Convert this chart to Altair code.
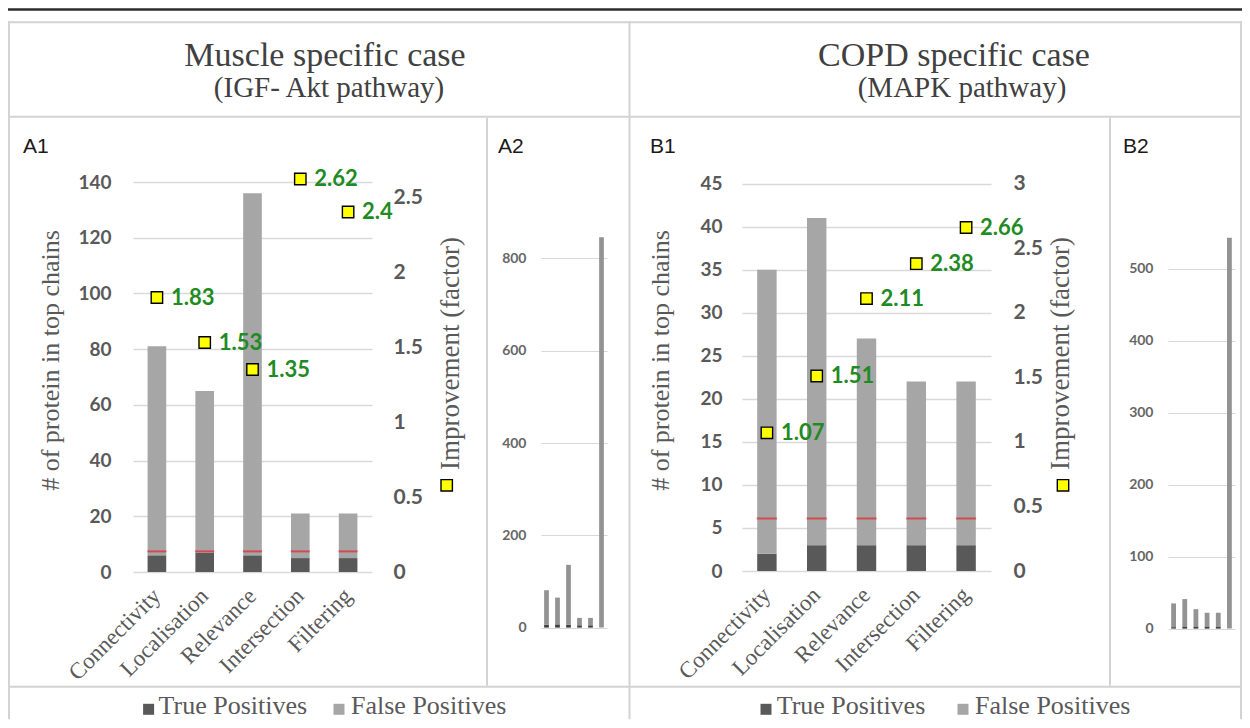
import altair as alt
import pandas as pd

# ---------------- data ----------------
steps = ["Connectivity", "Localisation", "Relevance", "Intersection", "Filtering"]
all_step = "All proteins"
series = ["True Positives", "False Positives"]

muscle_tp = [6, 7, 6, 5, 5]
muscle_fp = [75, 58, 130, 16, 16]
muscle_red = [7.4, 7.4, 7.4, 7.4, 7.4]
muscle_improvement = [1.83, 1.53, 1.35, 2.62, 2.4]
muscle_all_tp = 0
muscle_all_fp = 846

copd_tp = [2, 3, 3, 3, 3]
copd_fp = [33, 38, 24, 19, 19]
copd_red = [6.1, 6.1, 6.1, 6.1, 6.1]
copd_improvement = [1.07, 1.51, 2.11, 2.38, 2.66]
copd_all_tp = 0
copd_all_fp = 543

muscle_left_ticks = [0, 20, 40, 60, 80, 100, 120, 140]
muscle_right_ticks = [0, 0.5, 1, 1.5, 2, 2.5]
muscle_overview_ticks = [0, 200, 400, 600, 800]
copd_left_ticks = [0, 5, 10, 15, 20, 25, 30, 35, 40, 45]
copd_right_ticks = [0, 0.5, 1, 1.5, 2, 2.5, 3]
copd_overview_ticks = [0, 100, 200, 300, 400, 500]

# ---------------- styles ----------------
SERIF = "Liberation Serif"
CAL = "Lato"
SANS = "Liberation Sans"
DARK = "#595959"
LIGHT = "#a6a6a6"
OV_DARK = "#3f3f3f"
OV_LIGHT = "#939393"
RED = "#e5252b"
GREEN = "#1f8b24"
YELLOW = "#ffff00"
GRID = "#d9d9d9"
FRAME = "#d3d3d3"
TXT = "#595959"
HEAD = "#404040"

# page layout (pixels)
TOP = 181.7
A1_X, A1_W, A1_H = 133, 239, 390
A2_X, A2_W, A2_H = 541, 66, 445.6
B1_X, B1_W, B1_H = 742, 249, 389
B2_X, B2_W, B2_H = 1168, 67, 446.6


def one():
    return alt.Data(values=[{"k": 0}])


def band(x1, y1, x2, y2, ox, color=FRAME):
    return alt.Chart(one()).mark_rect(color=color, opacity=1).encode(
        x=alt.value(x1 - ox), x2=alt.value(x2 - ox),
        y=alt.value(y1 - TOP), y2=alt.value(y2 - TOP))


def label(txt, x, y, ox, **kw):
    return alt.Chart(one()).mark_text(text=txt, **kw).encode(
        x=alt.value(x - ox), y=alt.value(y - TOP))


def marker(x, y, ox, fill, size=121, stroke=None):
    kw = dict(size=size, fill=fill, opacity=1, shape="square", filled=True)
    if stroke:
        kw.update(stroke=stroke, strokeWidth=1.4)
    return alt.Chart(one()).mark_point(**kw).encode(
        x=alt.value(x - ox), y=alt.value(y - TOP))


def spacer(w):
    return alt.Chart(one()).mark_point(opacity=0).encode(
        x=alt.value(0), y=alt.value(0)).properties(width=w, height=20)


def stack_frame(cats, tp, fp):
    rows = []
    for c, t, f in zip(cats, tp, fp):
        rows.append({"step": c, "series": series[0], "count": t, "rank": 0})
        rows.append({"step": c, "series": series[1], "count": f, "rank": 1})
    return pd.DataFrame(rows)


def main_panel(tp, fp, red, imp, ymax, yticks, rmax, rticks, width, height,
               bar_px, lab_pad_l, lab_pad_r, title_x_l, title_x_r, decor):
    xs = alt.X("step:N", sort=steps,
               scale=alt.Scale(domain=steps, paddingInner=0.61, paddingOuter=0.305),
               axis=alt.Axis(labelAngle=-45, labelAlign="right", labelBaseline="middle",
                             labelPadding=20, labelFont=SERIF, labelFontSize=23,
                             labelColor=TXT, domain=False, ticks=False, grid=False,
                             labelOverlap=False, title=None))
    left_axis = alt.Axis(orient="left", values=yticks, format="d", labelFont=CAL,
                         labelFontSize=19, labelFontWeight="bold", labelColor=TXT,
                         labelPadding=lab_pad_l, domain=False, ticks=False, grid=True,
                         gridColor=GRID, gridWidth=1.3, title="# of protein in top chains",
                         titleFont=SERIF, titleFontSize=26, titleFontWeight="normal",
                         titleColor=TXT, titleAngle=270, titleAlign="center",
                         titleBaseline="middle", titleX=title_x_l, titleY=178)
    right_axis = alt.Axis(orient="right", values=rticks, format=".1~f", labelFont=CAL,
                          labelFontSize=21, labelFontWeight="bold", labelColor=TXT,
                          labelPadding=lab_pad_r, domain=False, ticks=False, grid=False,
                          title="Improvement (factor)", titleFont=SERIF,
                          titleFontSize=27, titleFontWeight="normal", titleColor=TXT,
                          titleAngle=270, titleAlign="center", titleBaseline="middle",
                          titleX=title_x_r, titleY=171)
    yscale = alt.Scale(domain=[0, ymax], nice=False, zero=True)
    rscale = alt.Scale(domain=[0, rmax], nice=False, zero=True)

    bars = alt.Chart(stack_frame(steps, tp, fp)).mark_bar().encode(
        x=xs,
        y=alt.Y("count:Q", stack="zero", scale=yscale, axis=left_axis),
        color=alt.Color("series:N", scale=alt.Scale(domain=series, range=[DARK, LIGHT]),
                        legend=None),
        order=alt.Order("rank:Q", sort="ascending"))
    red_df = pd.DataFrame({"step": steps, "count": red})
    ticks = alt.Chart(red_df).mark_tick(color=RED, thickness=2, size=bar_px).encode(
        x=xs, y=alt.Y("count:Q", scale=yscale, axis=left_axis))

    imp_df = pd.DataFrame({"step": steps, "imp": imp})
    ry = alt.Y("imp:Q", scale=rscale, axis=right_axis)
    squares = alt.Chart(imp_df).mark_point(shape="square", size=130, filled=True,
                                           fill=YELLOW, stroke="black", strokeWidth=1.4,
                                           opacity=1).encode(x=xs, y=ry)
    vals = alt.Chart(imp_df).mark_text(align="left", baseline="middle", dx=14, font=CAL,
                                       fontSize=22, fontWeight="bold", color=GREEN).encode(
        x=xs, y=ry, text=alt.Text("imp:Q", format="~g"))

    return alt.layer(alt.layer(bars, ticks), alt.layer(squares, vals), *decor).resolve_scale(
        y="independent").properties(width=width, height=height)


def overview_panel(tp, fp, all_tp, all_fp, ymax, yticks, width, height):
    cats = steps + [all_step]
    df = stack_frame(cats, tp + [all_tp], fp + [all_fp])
    return alt.Chart(df).mark_bar().encode(
        x=alt.X("step:N", sort=cats,
                scale=alt.Scale(domain=cats, paddingInner=0.57, paddingOuter=0.285),
                axis=None),
        y=alt.Y("count:Q", stack="zero",
                scale=alt.Scale(domain=[0, ymax], nice=False, zero=True),
                axis=alt.Axis(values=yticks, format="d", labelFont=CAL, labelFontSize=14,
                              labelFontWeight="bold", labelColor="#666666", labelPadding=15,
                              domain=False, ticks=False, grid=True, gridColor=GRID,
                              gridWidth=1.2, title=None)),
        color=alt.Color("series:N",
                        scale=alt.Scale(domain=series, range=[OV_DARK, OV_LIGHT]),
                        legend=None),
        order=alt.Order("rank:Q", sort="ascending"),
    ).properties(width=width, height=height)


# ---------------- decor: left half (relative to A1) ----------------
ox = A1_X
decor_a = [
    band(8, 8, 1242, 10.5, ox, color="#2b2b2b"),
    band(8, 21, 1242, 23, ox),
    band(8, 21, 10, 719, ox),
    band(1240, 21, 1242, 719, ox),
    band(628.5, 21, 630.5, 719, ox),
    band(8, 115.5, 1242, 117.5, ox),
    band(8, 685.5, 1242, 687.5, ox),
    band(486, 117.5, 488, 685.5, ox),
    band(1109, 117.5, 1111, 685.5, ox),
    label("Muscle specific case", 325, 66, ox, font=SERIF, fontSize=34, color=HEAD,
          align="center", baseline="alphabetic"),
    label("(IGF- Akt pathway)", 329, 97, ox, font=SERIF, fontSize=29, color=HEAD,
          align="center", baseline="alphabetic"),
    label("A1", 23, 153, ox, font=SANS, fontSize=21, color="#1a1a1a", align="left",
          baseline="alphabetic"),
    label("A2", 498, 153, ox, font=SANS, fontSize=21, color="#1a1a1a", align="left",
          baseline="alphabetic"),
    marker(148.6, 709, ox, DARK),
    label("True Positives", 158.6, 714, ox, font=SERIF, fontSize=26, color=TXT,
          align="left", baseline="alphabetic"),
    marker(339, 709, ox, LIGHT),
    label("False Positives", 351, 714, ox, font=SERIF, fontSize=26, color=TXT,
          align="left", baseline="alphabetic"),
    marker(446.7, 485, ox, YELLOW, size=130, stroke="black"),
]

ox = B1_X
decor_b = [
    label("COPD specific case", 954, 66, ox, font=SERIF, fontSize=34, color=HEAD,
          align="center", baseline="alphabetic"),
    label("(MAPK pathway)", 962, 97, ox, font=SERIF, fontSize=29, color=HEAD,
          align="center", baseline="alphabetic"),
    label("B1", 650, 153, ox, font=SANS, fontSize=21, color="#1a1a1a", align="left",
          baseline="alphabetic"),
    label("B2", 1123, 153, ox, font=SANS, fontSize=21, color="#1a1a1a", align="left",
          baseline="alphabetic"),
    marker(766, 709, ox, DARK),
    label("True Positives", 776.7, 714, ox, font=SERIF, fontSize=26, color=TXT,
          align="left", baseline="alphabetic"),
    marker(963, 709, ox, LIGHT),
    label("False Positives", 975, 714, ox, font=SERIF, fontSize=26, color=TXT,
          align="left", baseline="alphabetic"),
    marker(1063, 485, ox, YELLOW, size=130, stroke="black"),
]

a1 = main_panel(muscle_tp, muscle_fp, muscle_red, muscle_improvement,
                140, muscle_left_ticks, 2.6, muscle_right_ticks, A1_W, A1_H,
                19, 22, 21, 50 - A1_X, 450 - (A1_X + A1_W), decor_a)
a2 = overview_panel(muscle_tp, muscle_fp, muscle_all_tp, muscle_all_fp,
                    A2_H / 0.4615, muscle_overview_ticks, A2_W, A2_H)
b1 = main_panel(copd_tp, copd_fp, copd_red, copd_improvement,
                45 * B1_H / 387.4, copd_left_ticks, 3 * B1_H / 387.4, copd_right_ticks,
                B1_W, B1_H, 20, 20, 22, 660 - B1_X, 1060 - (B1_X + B1_W), decor_b)
b2 = overview_panel(copd_tp, copd_fp, copd_all_tp, copd_all_fp,
                    B2_H / 0.72, copd_overview_ticks, B2_W, B2_H)

chart = alt.hconcat(
    a1, spacer(A2_X - (A1_X + A1_W)),
    a2, spacer(B1_X - (A2_X + A2_W)),
    b1, spacer(B2_X - (B1_X + B1_W)),
    b2,
    spacing=0, bounds="flush",
).resolve_scale(color="independent").properties(
    padding=0, background="white").configure_view(stroke=None)

chart.save("out.html", embed_options={"renderer": "svg", "actions": False})
